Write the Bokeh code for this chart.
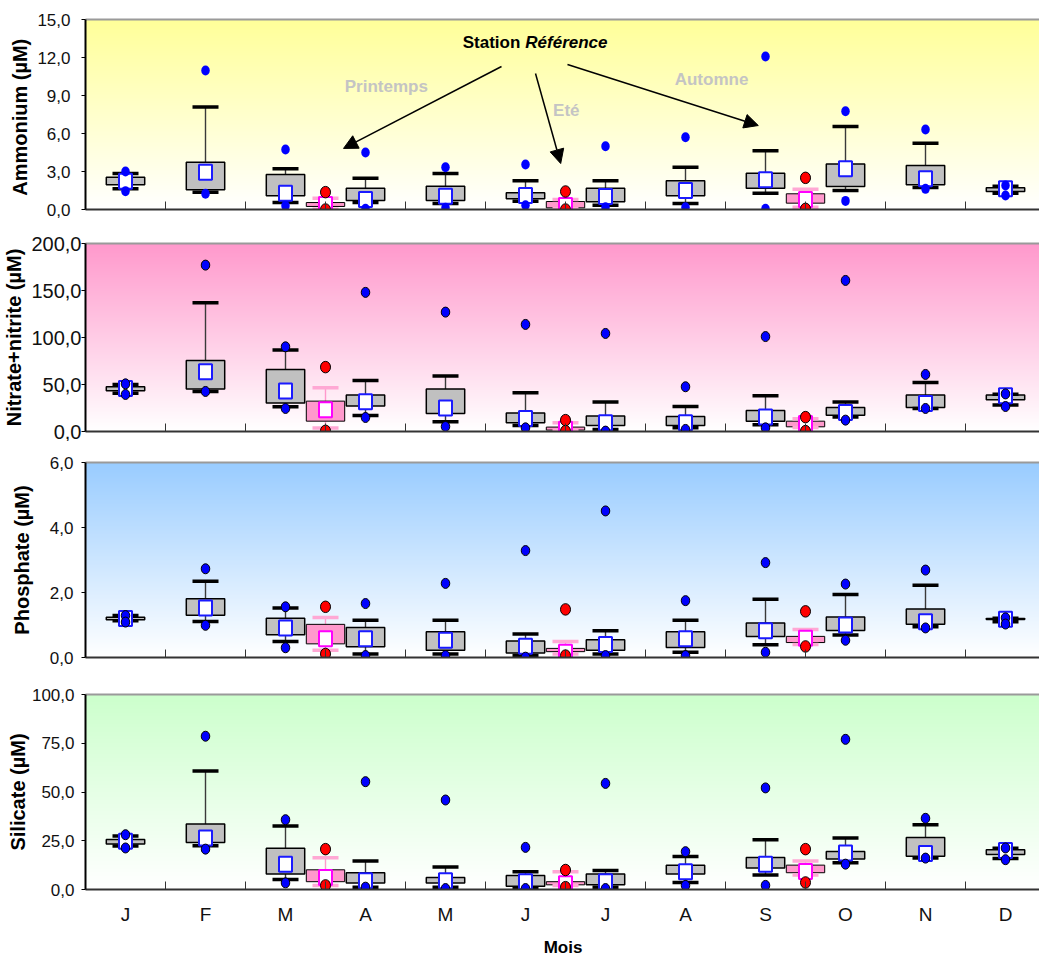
import numpy as np
from bokeh.plotting import figure
from bokeh.layouts import column
from bokeh.models import (Range1d, FixedTicker, LinearAxis, Label, Arrow,
                          NormalHead, ColumnDataSource)
from bokeh.embed import file_html
from bokeh.resources import INLINE

FONT = "Liberation Sans"

months = ["J", "F", "M", "A", "M", "J", "J", "A", "S", "O", "N", "D"]
month_x = [0.5, 1.5, 2.5, 3.5, 4.5, 5.5, 6.5, 7.5, 8.5, 9.5, 10.5, 11.5]
season_x = [3.0, 6.0, 9.0]
seasons = ["Printemps", "Eté", "Automne"]

# Ammonium (µM) - monthly statistics
amm_min = [1.45, 1.24, 0.29, 0.05, 0.13, 0.34, 0.18, 0.18, 0.05, 0.68, 1.63, 1.10]
amm_p10 = [1.63, 1.37, 0.55, 0.55, 0.47, 0.66, 0.34, 0.47, 1.29, 1.50, 1.74, 1.29]
amm_q1 = [1.95, 1.55, 1.08, 0.71, 0.71, 0.84, 0.61, 1.08, 1.68, 1.82, 1.95, 1.42]
amm_q3 = [2.55, 3.74, 2.76, 1.68, 1.84, 1.32, 1.68, 2.26, 2.87, 3.60, 3.47, 1.71]
amm_p90 = [2.84, 8.10, 3.21, 2.47, 2.84, 2.26, 2.26, 3.34, 4.63, 6.55, 5.24, 1.84]
amm_max = [3.00, 10.97, 4.74, 4.50, 3.34, 3.55, 5.00, 5.71, 12.08, 7.76, 6.32, 1.89]
amm_mean = [2.23, 2.95, 1.29, 0.79, 1.05, 1.10, 1.03, 1.50, 2.34, 3.21, 2.42, 1.63]
# Ammonium - seasonal campaigns
amm_s_min = [0.00, 0.00, 0.05]
amm_s_p10 = [0.02, 0.05, 0.18]
amm_s_q1 = [0.24, 0.13, 0.50]
amm_s_q3 = [0.55, 0.63, 1.24]
amm_s_p90 = [0.89, 0.79, 1.60]
amm_s_max = [1.37, 1.42, 2.50]
amm_s_mean = [0.39, 0.32, 0.79]

# Nitrate+nitrite (µM)
nit_min = [39.4, 42.6, 24.5, 14.9, 5.3, 3.9, 0.4, 2.2, 3.9, 12.1, 24.5, 26.6]
nit_p10 = [40.8, 42.6, 26.3, 17.0, 10.3, 6.4, 2.2, 3.9, 7.1, 15.3, 24.5, 28.1]
nit_q1 = [43.3, 45.1, 30.2, 27.0, 19.2, 9.3, 6.4, 6.4, 11.0, 17.4, 25.5, 33.7]
nit_q3 = [47.6, 75.6, 66.0, 38.7, 45.1, 19.6, 16.4, 16.0, 22.4, 25.5, 38.7, 38.7]
nit_p90 = [50.0, 137.0, 86.6, 54.3, 59.0, 41.2, 31.3, 26.6, 38.0, 31.3, 52.2, 39.5]
nit_max = [50.7, 177.0, 90.1, 148.0, 127.0, 113.9, 104.3, 47.6, 101.0, 160.7, 60.7, 40.0]
nit_mean = [45.8, 63.5, 43.0, 31.6, 24.9, 13.8, 9.3, 9.3, 15.3, 20.2, 29.8, 38.0]
nit_s_min = [0.7, 0.4, 0.4]
nit_s_p10 = [3.6, 0.7, 4.3]
nit_s_q1 = [11.0, 1.5, 5.0]
nit_s_q3 = [32.3, 4.7, 11.0]
nit_s_p90 = [46.5, 9.3, 13.5]
nit_s_max = [68.5, 12.1, 15.3]
nit_s_mean = [23.1, 2.5, 8.5]

# Phosphate (µM)
pho_min = [1.09, 0.99, 0.30, 0.06, 0.06, 0.01, 0.06, 0.06, 0.16, 0.53, 0.91, 1.03]
pho_p10 = [1.13, 1.11, 0.49, 0.11, 0.11, 0.06, 0.11, 0.16, 0.39, 0.69, 0.95, 1.10]
pho_q1 = [1.16, 1.30, 0.70, 0.33, 0.22, 0.14, 0.22, 0.31, 0.65, 0.83, 1.02, 1.17]
pho_q3 = [1.24, 1.81, 1.21, 0.92, 0.79, 0.51, 0.55, 0.79, 1.06, 1.25, 1.49, 1.20]
pho_p90 = [1.29, 2.35, 1.52, 1.15, 1.15, 0.72, 0.82, 1.15, 1.79, 1.94, 2.22, 1.21]
pho_max = [1.29, 2.73, 1.56, 1.66, 2.28, 3.29, 4.51, 1.75, 2.92, 2.26, 2.69, 1.22]
pho_mean = [1.20, 1.52, 0.91, 0.58, 0.53, 0.35, 0.40, 0.58, 0.82, 1.00, 1.10, 1.18]
pho_s_min = [0.11, 0.06, 0.34]
pho_s_p10 = [0.22, 0.11, 0.40]
pho_s_q1 = [0.42, 0.18, 0.46]
pho_s_q3 = [1.02, 0.28, 0.65]
pho_s_p90 = [1.23, 0.49, 0.86]
pho_s_max = [1.56, 1.48, 1.42]
pho_s_mean = [0.58, 0.16, 0.59]

# Silicate (µM)
sil_min = [21.3, 20.7, 3.4, 1.2, 0.5, 0.5, 0.5, 2.1, 2.1, 13.0, 16.1, 15.3]
sil_p10 = [22.3, 22.4, 5.1, 1.2, 1.2, 0.9, 1.2, 3.6, 7.5, 13.7, 16.1, 15.9]
sil_q1 = [23.3, 24.1, 7.9, 3.3, 3.3, 1.7, 2.4, 7.9, 11.0, 15.6, 17.1, 18.0]
sil_q3 = [25.7, 33.6, 21.1, 8.6, 6.2, 7.2, 7.9, 12.5, 16.4, 19.5, 26.7, 20.4]
sil_p90 = [27.4, 60.8, 32.6, 14.6, 11.5, 9.1, 9.8, 16.9, 25.5, 26.4, 33.2, 21.1]
sil_max = [28.1, 78.6, 35.8, 55.3, 45.9, 21.6, 54.4, 19.4, 52.1, 77.0, 36.5, 21.3]
sil_mean = [24.7, 26.4, 13.0, 4.5, 4.5, 4.0, 4.0, 9.1, 13.0, 18.7, 18.5, 20.0]
sil_s_min = [2.1, 1.2, 3.6]
sil_s_p10 = [2.1, 2.1, 7.4]
sil_s_q1 = [4.0, 2.4, 8.6]
sil_s_q3 = [10.1, 4.0, 12.5]
sil_s_p90 = [16.3, 9.1, 14.6]
sil_s_max = [20.7, 10.0, 20.7]
sil_s_mean = [6.2, 2.9, 9.2]

X_END = 11.9375


def gradient(top_rgb, n=240):
    t = np.linspace(0.0, 1.0, n)[:, None]
    rgb = 255.0 + (np.array(top_rgb, dtype=float)[None, :] - 255.0) * t
    img = np.empty((n, 1), dtype=np.uint32)
    view = img.view(dtype=np.uint8).reshape((n, 1, 4))
    view[:, 0, 0:3] = np.round(rgb).astype(np.uint8)
    view[:, 0, 3] = 255
    return img


def fmt(v):
    s = f"{v:.1f}"
    return s.replace(".", ",")


def draw_boxes(p, x, mn, p10, q1, q3, p90, mx, mean, kind, dot_outline):
    src = ColumnDataSource(dict(x=x, mn=mn, p10=p10, q1=q1, q3=q3,
                                p90=p90, mx=mx, mean=mean))
    if kind == "month":
        wcol, box_fill, cap_col, sq_col = "#3a3a3a", "#c0c0c0", "black", "#1a1aff"
        dot_fill, dot_w, dot_h = "#0000ff", 8.5, 10
        dot_line = "black" if dot_outline else None
        box_lw = 1.5
    else:
        wcol, box_fill, cap_col, sq_col = "#ff99cc", "#ff99cc", "#ffa8d4", "#ff00ff"
        dot_fill, dot_w, dot_h = "#ff0000", 10, 11.5
        dot_line = "black"
        box_lw = 1.0
    p.segment(x0="x", y0="q3", x1="x", y1="p90", line_color=wcol,
              line_width=1.4, source=src)
    p.segment(x0="x", y0="p10", x1="x", y1="q1", line_color=wcol,
              line_width=1.4, source=src)
    p.vbar(x="x", bottom="q1", top="q3", width=0.48, fill_color=box_fill,
           line_color="black", line_width=box_lw, source=src)
    p.scatter(x="x", y="p90", marker="dash", size=26, line_color=cap_col,
              line_width=3.5, source=src)
    p.scatter(x="x", y="p10", marker="dash", size=26, line_color=cap_col,
              line_width=3.5, source=src)
    p.rect(x="x", y="mean", width=13, height=15, width_units="screen",
           height_units="screen", fill_color="white", line_color=sq_col,
           line_width=2, source=src)
    for col in ("mx", "mn"):
        p.ellipse(x="x", y=col, width=dot_w, height=dot_h,
                  width_units="screen", height_units="screen",
                  fill_color=dot_fill, line_color=dot_line, line_width=1,
                  source=src)


def make_panel(ylabel, ymax, step, top_rgb, month_data, season_data,
               frame_h, border_top, border_bottom, label_size,
               label_standoff, title_standoff, dot_outline, bottom=False):
    p = figure(frame_width=955, frame_height=frame_h,
               x_range=Range1d(0, X_END), y_range=Range1d(0, ymax),
               output_backend="svg", toolbar_location=None,
               min_border_left=84, min_border_right=0,
               min_border_top=border_top, min_border_bottom=border_bottom,
               background_fill_color="white", border_fill_color="white")
    p.outline_line_color = None
    p.xgrid.visible = False
    p.ygrid.visible = False

    p.image_rgba(image=[gradient(top_rgb)], x=0, y=0, dw=12, dh=ymax)

    draw_boxes(p, month_x, *month_data, kind="month", dot_outline=dot_outline)
    draw_boxes(p, season_x, *season_data, kind="season", dot_outline=True)

    # y axis
    yticks = [round(i * step, 6) for i in range(int(round(ymax / step)) + 1)]
    ya = p.yaxis[0]
    ya.ticker = FixedTicker(ticks=yticks)
    ya.major_label_overrides = {t: fmt(t) for t in yticks}
    ya.axis_line_color = "black"
    ya.axis_line_width = 2
    ya.major_tick_in = 0
    ya.major_tick_out = 4
    ya.major_tick_line_color = "black"
    ya.minor_tick_line_color = None
    ya.major_label_text_font = FONT
    ya.major_label_text_font_size = label_size
    ya.major_label_text_color = "#111111"
    ya.major_label_standoff = label_standoff
    ya.axis_label = ylabel
    ya.axis_label_text_font = FONT
    ya.axis_label_text_font_style = "bold"
    ya.axis_label_text_font_size = "20px"
    ya.axis_label_text_color = "black"
    ya.axis_label_standoff = title_standoff

    # x axis: month boundary ticks, month letters on the last panel only
    xa = p.xaxis[0]
    bounds = [float(i) for i in range(1, 12)]
    if bottom:
        xa.ticker = FixedTicker(ticks=month_x, minor_ticks=bounds)
        xa.major_label_overrides = {x: m for x, m in zip(month_x, months)}
        xa.major_label_text_font = FONT
        xa.major_label_text_font_size = "19px"
        xa.major_label_text_color = "#111111"
        xa.major_label_standoff = 14
        xa.axis_label = "Mois"
        xa.axis_label_text_font = FONT
        xa.axis_label_text_font_style = "bold"
        xa.axis_label_text_font_size = "17px"
        xa.axis_label_text_color = "black"
        xa.axis_label_standoff = 10
    else:
        xa.ticker = FixedTicker(ticks=[], minor_ticks=bounds)
        xa.major_label_standoff = 0
        xa.major_label_text_font_size = "0px"
    xa.axis_line_color = "#333333"
    xa.axis_line_width = 2
    xa.major_tick_in = 0
    xa.major_tick_out = 0
    xa.minor_tick_in = 8
    xa.minor_tick_out = 0
    xa.minor_tick_line_color = "#333333"
    xa.minor_tick_line_width = 1

    top = LinearAxis(ticker=FixedTicker(ticks=[]), axis_line_color="#9a9a9a",
                     axis_line_width=2, major_tick_in=0, major_tick_out=0,
                     minor_tick_in=0, minor_tick_out=0,
                     major_label_standoff=0, major_label_text_font_size="0px")
    p.add_layout(top, "above")
    return p


p1 = make_panel("Ammonium  (µM)", 15, 3, (255, 255, 153),
                (amm_min, amm_p10, amm_q1, amm_q3, amm_p90, amm_max, amm_mean),
                (amm_s_min, amm_s_p10, amm_s_q1, amm_s_q3, amm_s_p90, amm_s_max, amm_s_mean),
                190, 19, 10, "17px", 11, 3, dot_outline=False)
p2 = make_panel("Nitrate+nitrite (µM)", 200, 50, (255, 153, 204),
                (nit_min, nit_p10, nit_q1, nit_q3, nit_p90, nit_max, nit_mean),
                (nit_s_min, nit_s_p10, nit_s_q1, nit_s_q3, nit_s_p90, nit_s_max, nit_s_mean),
                188, 24, 10, "20px", 0, 3, dot_outline=True)
p3 = make_panel("Phosphate (µM)", 6, 2, (153, 204, 255),
                (pho_min, pho_p10, pho_q1, pho_q3, pho_p90, pho_max, pho_mean),
                (pho_s_min, pho_s_p10, pho_s_q1, pho_s_q3, pho_s_p90, pho_s_max, pho_s_mean),
                195, 21, 10, "17px", 8, 14, dot_outline=True)
p4 = make_panel("Silicate (µM)", 100, 25, (204, 255, 204),
                (sil_min, sil_p10, sil_q1, sil_q3, sil_p90, sil_max, sil_mean),
                (sil_s_min, sil_s_p10, sil_s_q1, sil_s_q3, sil_s_p90, sil_s_max, sil_s_mean),
                195, 27, 67, "17px", 7, 0, dot_outline=True, bottom=True)

# Station annotation with arrows towards the seasonal campaigns
p1.add_layout(Label(x=5.46, y=13.18, text="Station", text_font=FONT,
                    text_font_style="bold", text_font_size="17px",
                    text_color="black", text_align="right",
                    text_baseline="middle", x_offset=-2))
p1.add_layout(Label(x=5.46, y=13.18, text="Référence", text_font=FONT,
                    text_font_style="bold italic", text_font_size="17px",
                    text_color="black", text_align="left",
                    text_baseline="middle", x_offset=3))

season_lbl_x = [3.76, 6.01, 7.825]
season_lbl_y = [9.71, 7.82, 10.26]
for name, lx, ly in zip(seasons, season_lbl_x, season_lbl_y):
    p1.add_layout(Label(x=lx, y=ly, text=name, text_font=FONT,
                        text_font_style="bold", text_font_size="17px",
                        text_color="#c4c4c4", text_align="center",
                        text_baseline="middle"))

arrow_start = [(5.20, 11.29), (5.625, 10.74), (6.025, 11.45)]
arrow_end = [(3.225, 4.82), (5.94, 3.63), (8.41, 6.63)]
for (xs, ys), (xe, ye) in zip(arrow_start, arrow_end):
    p1.add_layout(Arrow(end=NormalHead(size=14, fill_color="black",
                                       line_color="black", line_width=1),
                        x_start=xs, y_start=ys, x_end=xe, y_end=ye,
                        line_color="black", line_width=1.5))

layout = column(p1, p2, p3, p4, spacing=0)

with open("out.html", "w") as f:
    f.write(file_html(layout, INLINE))
